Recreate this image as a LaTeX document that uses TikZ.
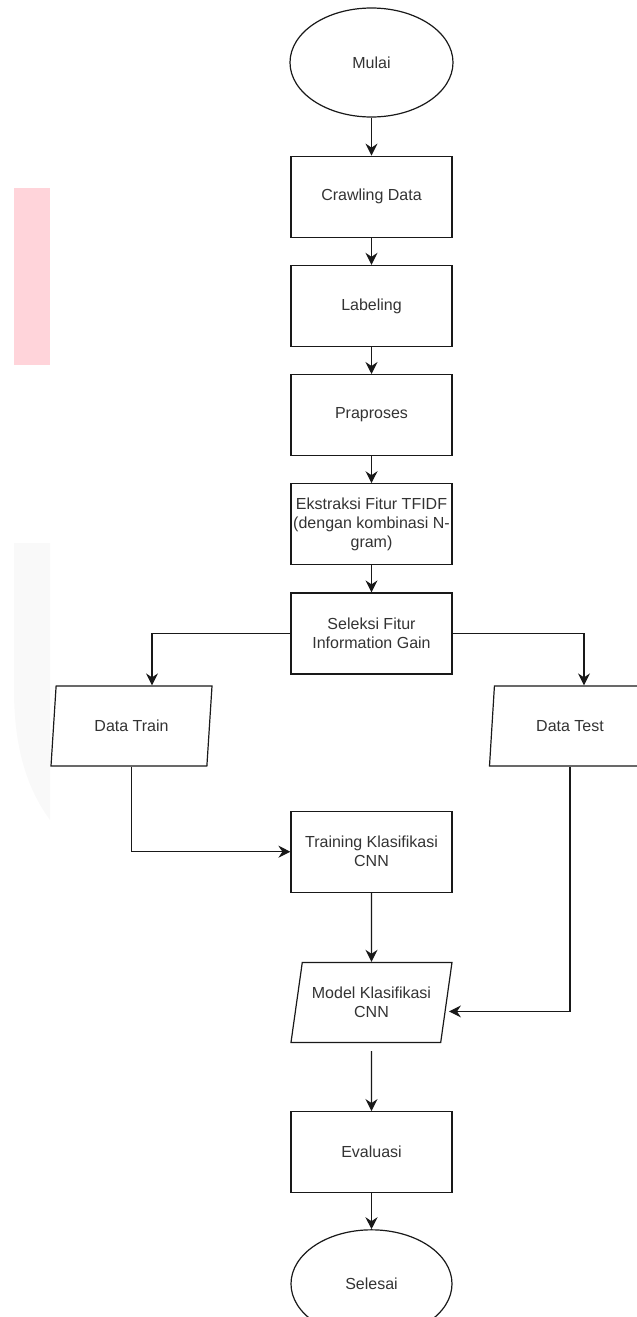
\documentclass[tikz,border=0pt]{standalone}
\usepackage{fontspec}
\setmainfont{Liberation Sans}
\usepackage{tikz}
\usetikzlibrary{arrows.meta,shapes.geometric,positioning}
\definecolor{wmpink}{RGB}{255,212,218}
\definecolor{wmgray}{RGB}{249,249,249}
\tikzset{
  proses/.style = {rectangle, draw, minimum width=161pt, minimum height=81pt, inner sep=2pt, align=center},
  terminal/.style = {ellipse, draw, minimum width=163pt, minimum height=109pt, inner sep=0pt},
  io/.style = {trapezium, draw, trapezium left angle=72, trapezium right angle=108,
    trapezium stretches body, minimum width=161pt, minimum height=80pt, inner sep=2pt, align=center},
  panah/.style = {-{Stealth[length=12pt,width=12pt,inset=4pt]}},
}

\begin{document}
\begin{tikzpicture}[x=1pt,y=-1pt,line width=1.2pt,draw=black!90,
    every node/.style={font=\fontsize{16}{19}\selectfont,text=black!80}]
  \useasboundingbox (0,0) rectangle (637,1317);
  \clip (0,0) rectangle (637,1317);
  % watermark
  \fill[wmpink] (14,188) rectangle (50,365);
  \fill[wmgray] (14,543) -- (50,543) -- (50,820) .. controls (28,790) and (14,750) .. (14,690) -- cycle;

  \node[terminal] (mulai) at (371.5,62.5) {Mulai};
  \node[proses, below=38pt of mulai] (crawl) {Crawling Data};
  \node[proses, below=27pt of crawl] (label) {Labeling};
  \node[proses, below=27pt of label] (prapro) {Praproses};
  \node[proses, below=27pt of prapro] (ekstrak) {Ekstraksi Fitur TFIDF\\(dengan kombinasi N-\\gram)};
  \node[proses, below=27pt of ekstrak] (seleksi) {Seleksi Fitur\\Information Gain};
  \node[io] (train) at (131.5,726) {Data Train};
  \node[io] (test) at (570,726) {Data Test};
  \node[proses, below=136pt of seleksi] (training) {Training Klasifikasi\\CNN};
  \node[io, below=69pt of training] (model) {Model Klasifikasi\\CNN};
  \node[proses, below=68pt of model] (eval) {Evaluasi};
  \node[terminal, minimum width=161pt, minimum height=108pt, below=36pt of eval] (selesai) {Selesai};

  \draw[panah] (mulai) -- (crawl);
  \draw[panah] (crawl) -- (label);
  \draw[panah] (label) -- (prapro);
  \draw[panah] (prapro) -- (ekstrak);
  \draw[panah] (ekstrak) -- (seleksi);
  \draw[panah] (seleksi.west) -| ([xshift=20.5pt]train.north);
  \draw[panah] (seleksi.east) -| ([xshift=14pt]test.north);
  \draw[panah] (train.south) |- (training.west);
  \draw[panah] (training) -- (model);
  \draw[panah] (test.south) |- ([xshift=2pt,yshift=-9pt]model.east);
  \draw[panah, shorten <=8pt] (model) -- (eval);
  \draw[panah] (eval) -- (selesai);
\end{tikzpicture}
\end{document}
